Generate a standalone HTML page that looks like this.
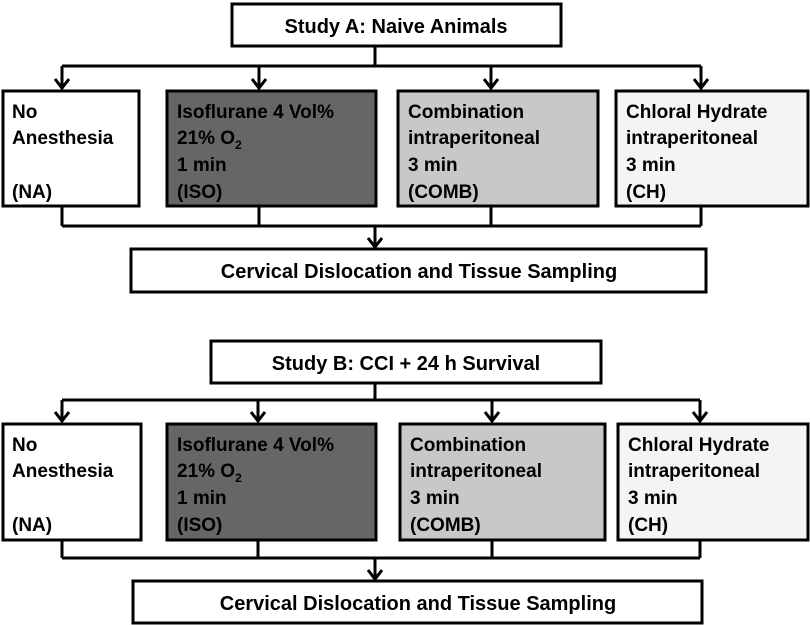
<!DOCTYPE html>
<html><head><meta charset="utf-8"><style>
html,body{margin:0;padding:0;background:#fff;}
svg{display:block;}
text{font-family:"Liberation Sans",Arial,sans-serif;font-weight:bold;fill:#000;}
</style></head><body>
<svg width="810" height="625" viewBox="0 0 810 625" xmlns="http://www.w3.org/2000/svg">
<g stroke="#000" stroke-width="3" fill="none">
<!-- Study A -->
<rect x="232" y="4" width="329" height="42" fill="#fff"/>
<path d="M375 46V66M62 66H701M62 66V88M259 66V88M491 66V88M701 66V88"/>
<path d="M55 79L62 88L69 79M252 79L259 88L266 79M484 79L491 88L498 79M694 79L701 88L708 79"/>
<rect x="3" y="91" width="136" height="115" fill="#fff"/>
<rect x="167" y="91" width="209" height="115" fill="#666"/>
<rect x="398" y="91" width="200" height="115" fill="#c8c8c8"/>
<rect x="616" y="91" width="192" height="115" fill="#f4f4f4"/>
<path d="M62 206V226M259 206V226M491 206V226M701 206V226M62 226H701M375 226V247"/>
<path d="M368 238L375 247L382 238"/>
<rect x="131" y="249" width="575" height="43" fill="#fff"/>
<!-- Study B -->
<rect x="211" y="341" width="390" height="42" fill="#fff"/>
<path d="M375 383V400M62 400H700M62 400V421M258 400V421M492 400V421M700 400V421"/>
<path d="M55 412L62 421L69 412M251 412L258 421L265 412M485 412L492 421L499 412M693 412L700 421L707 412"/>
<rect x="3" y="424" width="138" height="116" fill="#fff"/>
<rect x="167" y="424" width="209" height="116" fill="#666"/>
<rect x="400" y="424" width="205" height="116" fill="#c8c8c8"/>
<rect x="618" y="424" width="190" height="116" fill="#f4f4f4"/>
<path d="M62 540V558M258 540V558M492 540V558M700 540V558M62 558H700M375 558V578"/>
<path d="M368 570L375 579L382 570"/>
<rect x="133" y="581" width="569" height="42" fill="#fff"/>
</g>
<g font-size="19">
<text x="396" y="33" text-anchor="middle" font-size="20">Study A: Naive Animals</text>
<text x="12" y="118">No</text><text x="12" y="144">Anesthesia</text><text x="12" y="198">(NA)</text>
<text x="177" y="118">Isoflurane 4 Vol%</text><text x="177" y="144">21% O<tspan font-size="12" dy="5">2</tspan></text><text x="177" y="171">1 min</text><text x="177" y="198">(ISO)</text>
<text x="408" y="118">Combination</text><text x="408" y="144">intraperitoneal</text><text x="408" y="171">3 min</text><text x="408" y="198">(COMB)</text>
<text x="626" y="118">Chloral Hydrate</text><text x="626" y="144">intraperitoneal</text><text x="626" y="171">3 min</text><text x="626" y="198">(CH)</text>
<text x="419" y="278" text-anchor="middle" font-size="20">Cervical Dislocation and Tissue Sampling</text>

<text x="406" y="370" text-anchor="middle" font-size="20">Study B: CCI + 24 h Survival</text>
<text x="12" y="451">No</text><text x="12" y="477">Anesthesia</text><text x="12" y="531">(NA)</text>
<text x="177" y="451">Isoflurane 4 Vol%</text><text x="177" y="477">21% O<tspan font-size="12" dy="5">2</tspan></text><text x="177" y="504">1 min</text><text x="177" y="531">(ISO)</text>
<text x="410" y="451">Combination</text><text x="410" y="477">intraperitoneal</text><text x="410" y="504">3 min</text><text x="410" y="531">(COMB)</text>
<text x="628" y="451">Chloral Hydrate</text><text x="628" y="477">intraperitoneal</text><text x="628" y="504">3 min</text><text x="628" y="531">(CH)</text>
<text x="418" y="610" text-anchor="middle" font-size="20">Cervical Dislocation and Tissue Sampling</text>
</g>
</svg>
</body></html>
